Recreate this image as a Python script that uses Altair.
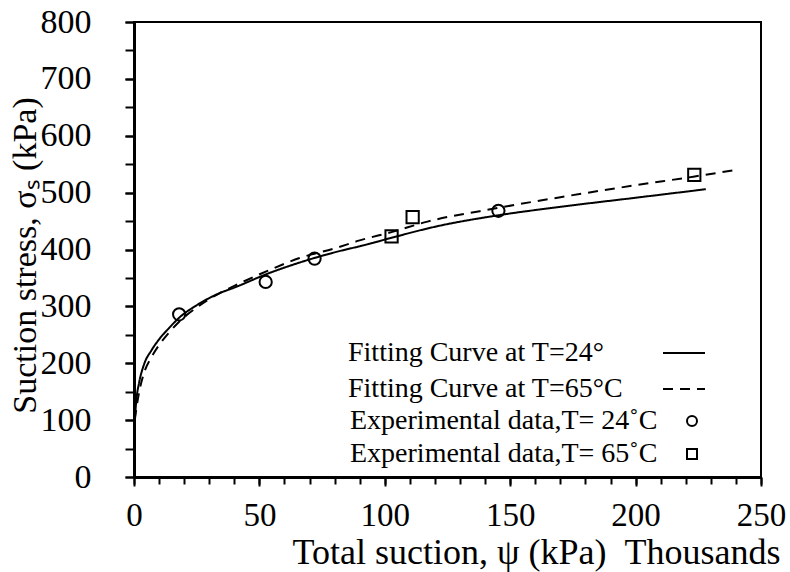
import altair as alt
import pandas as pd

# Fitting curves
fit24_x = [0.3, 1, 2, 4, 7, 10, 14, 18, 25, 34, 40, 53, 66, 80, 93, 103, 120, 145, 170, 200, 228]
fit24_y = [100, 138, 165, 198, 223, 242, 262, 280, 302, 323, 333, 357, 377, 395, 409, 421, 440, 460, 475, 491, 506]

fit65_x = [0.3, 1, 2, 4, 7, 10, 14, 18, 25, 34, 40, 53, 66, 80, 90, 103, 117, 145, 170, 200, 223, 240]
fit65_y = [100, 122, 148, 183, 211, 232, 254, 273, 298, 323, 336, 362, 385, 402, 416, 431, 449, 473, 492, 513, 528, 540]

# Experimental data
exp24_x = [18, 52.5, 72, 145.3]
exp24_y = [286, 343, 384, 468]
exp65_x = [102.7, 111.1, 223.4]
exp65_y = [423, 457, 531]

# Axis ticks
x_major = [0, 50, 100, 150, 200, 250]
x_minor = list(range(0, 251, 10))
y_major = [0, 100, 200, 300, 400, 500, 600, 700, 800]
y_minor = list(range(0, 801, 50))

LBL_FIT24 = "Fitting Curve at T=24°"
LBL_FIT65 = "Fitting Curve at T=65°C"
LBL_EXP24 = "Experimental data,T= 24˚C"
LBL_EXP65 = "Experimental data,T= 65˚C"

FONT = "Liberation Serif"

lines_df = pd.concat([
    pd.DataFrame({"x": fit24_x, "y": fit24_y, "series": LBL_FIT24, "order": range(len(fit24_x))}),
    pd.DataFrame({"x": fit65_x, "y": fit65_y, "series": LBL_FIT65, "order": range(len(fit65_x))}),
])
pts_df = pd.concat([
    pd.DataFrame({"x": exp24_x, "y": exp24_y, "series": LBL_EXP24}),
    pd.DataFrame({"x": exp65_x, "y": exp65_y, "series": LBL_EXP65}),
])

gap = "\u00a0" * 2
x_axis = alt.Axis(
    orient="bottom", values=x_major, labelOverlap=False, labelPadding=13,
    tickSize=9, labelFontSize=33,
    title="Total suction, ψ (kPa)" + gap + "Thousands",
    titleAlign="right", titleAnchor="end", titleX=646, titleY=86, titleBaseline="alphabetic",
    titleFontSize=36, format="d",
)
x_axis_minor = alt.Axis(
    orient="bottom", values=x_minor, labels=False, tickSize=7, domain=False, title=None,
)
y_axis = alt.Axis(
    orient="left", values=y_major, labelOverlap=False,
    tickSize=9, labelPadding=34,
    title="Suction stress, σₛ (kPa)",
    titleAngle=270, titleAlign="center", titleBaseline="alphabetic",
    titleX=-99, titleY=233, titleFontSize=34, format="d",
)
y_axis_minor = alt.Axis(
    orient="left", values=y_minor, labels=False, tickSize=9, domain=False, title=None,
)

xs = alt.Scale(domain=[0, 250], nice=False, zero=False)
ys = alt.Scale(domain=[0, 800], nice=False)

lines = alt.Chart(lines_df).mark_line(strokeWidth=2, color="black", interpolate="monotone").encode(
    x=alt.X("x:Q", scale=xs, axis=x_axis),
    y=alt.Y("y:Q", scale=ys, axis=y_axis),
    order="order:Q",
    strokeDash=alt.StrokeDash(
        "series:N",
        scale=alt.Scale(domain=[LBL_FIT24, LBL_FIT65], range=[[1, 0], [10, 7]]),
        legend=alt.Legend(
            title=None, orient="none", legendX=528, legendY=309,
            symbolType="stroke", symbolSize=1764, symbolStrokeWidth=2,
            symbolStrokeColor="black", labelOffset={"expr": "-358"}, labelAlign="left",
            labelFont=FONT, labelFontSize=28, labelColor="black", labelLimit=500,
            rowPadding=0,
        ),
    ),
)

points = alt.Chart(pts_df).mark_point(filled=False, strokeWidth=2, color="black", size=150, opacity=1).encode(
    x=alt.X("x:Q", scale=xs, axis=x_axis_minor),
    y=alt.Y("y:Q", scale=ys, axis=y_axis_minor),
    shape=alt.Shape(
        "series:N",
        scale=alt.Scale(domain=[LBL_EXP24, LBL_EXP65], range=["circle", "square"]),
        legend=alt.Legend(
            title=None, orient="none", legendX=544, legendY=385,
            symbolSize=100, symbolStrokeWidth=2, symbolStrokeColor="black",
            symbolFillColor="transparent", labelOffset={"expr": "-356"}, labelAlign="left",
            labelFont=FONT, labelFontSize=28, labelColor="black", labelLimit=500,
            rowPadding=5,
        ),
    ),
)

chart = alt.layer(lines, points).resolve_axis(x="independent", y="independent").properties(
    width=627, height=455,
    padding={"left": 134, "top": 22, "right": 29, "bottom": 95},
    autosize=alt.AutoSizeParams(type="none"),
    background="white",
).configure_view(
    stroke="black", strokeWidth=2
).configure_axis(
    domainColor="black", domainWidth=3, tickColor="black", tickWidth=2,
    labelFont=FONT, labelFontSize=34, labelColor="black",
    titleFont=FONT, titleColor="black", titleFontWeight="normal",
    grid=False, labelFlush=False,
)

chart.save("out.html", embed_options={"renderer": "svg", "actions": False})
